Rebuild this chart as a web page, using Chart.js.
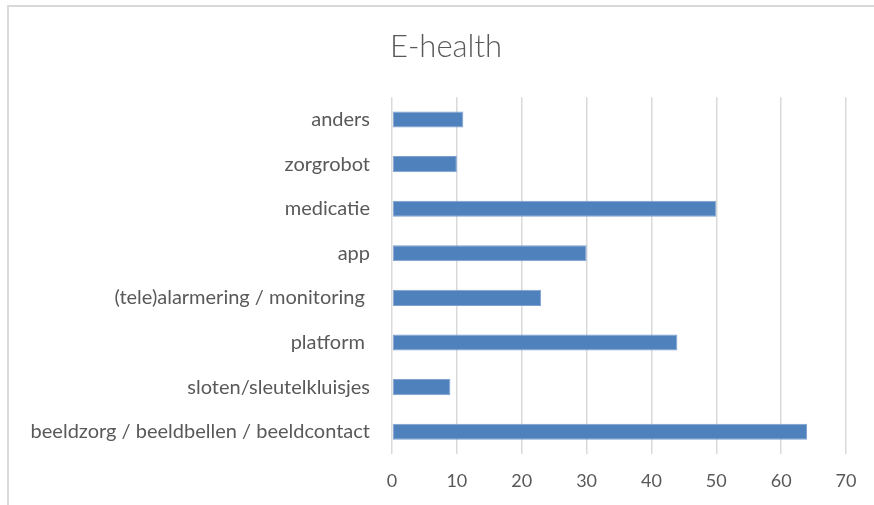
<!DOCTYPE html>
<html>
<head>
<meta charset="utf-8">
<script src="https://cdn.jsdelivr.net/npm/chart.js@4"></script>
<style>
    html, body { margin: 0; padding: 0; background: #fff; }
    #wrap { position: relative; width: 874px; height: 505px; }
    #frame { position: absolute; left: 7px; top: 5px; right: -4px; bottom: -4px; border: 2px solid #d9d9d9; pointer-events: none; }
</style>
</head>
<body>
<div id="wrap">
    <canvas id="eHealthChart" width="874" height="505"></canvas>
    <div id="frame"></div>
</div>
<script>
    // Data (top to bottom)
    const categories = [
        'anders',
        'zorgrobot',
        'medicatie',
        'app',
        '(tele)alarmering / monitoring ',
        'platform ',
        'sloten/sleutelkluisjes',
        'beeldzorg / beeldbellen / beeldcontact'
    ];
    const counts = [11, 10, 50, 30, 23, 44, 9, 64];
    const axisMin = 0;
    const axisMax = 70;
    const axisStep = 10;

    const textColor = '#595959';
    const fontFamily = "Lato, 'Open Sans', sans-serif";

    // the title sits centred over the framed area, not over the padded chart
    const titleShift = {
        id: 'titleShift',
        afterLayout(chart) {
            if (chart.titleBlock) {
                chart.titleBlock.left = 18;
                chart.titleBlock.right = chart.width;
            }
        }
    };

    const ctx = document.getElementById('eHealthChart');
    new Chart(ctx, {
        type: 'bar',
        data: {
            labels: categories,
            datasets: [{
                label: 'E-health',
                data: counts,
                backgroundColor: '#4f81bd',
                borderColor: '#7ea1cf',
                borderWidth: 1,
                borderSkipped: false,
                categoryPercentage: 1,
                barPercentage: 0.36
            }]
        },
        options: {
            indexAxis: 'y',
            responsive: false,
            animation: false,
            layout: { padding: { left: 8, right: 28, top: 0, bottom: 0 } },
            plugins: {
                legend: { display: false },
                tooltip: { enabled: false },
                title: {
                    display: true,
                    text: 'E-health',
                    color: textColor,
                    font: { family: fontFamily, size: 31, weight: '300' },
                    padding: { top: 28, bottom: 32 }
                }
            },
            scales: {
                x: {
                    min: axisMin,
                    max: axisMax,
                    ticks: {
                        stepSize: axisStep,
                        color: textColor,
                        padding: 16,
                        font: { family: fontFamily, size: 18 }
                    },
                    grid: { color: '#d9d9d9', lineWidth: 1.5, drawTicks: false },
                    border: { display: false },
                    afterFit: function (scale) { scale.height = 51; }
                },
                y: {
                    ticks: {
                        color: textColor,
                        padding: 22,
                        autoSkip: false,
                        font: { family: fontFamily, size: 20 }
                    },
                    grid: { display: false, drawTicks: false },
                    border: { display: false },
                    afterFit: function (scale) { scale.width = 384; }
                }
            }
        },
        plugins: [titleShift]
    });
</script>
</body>
</html>
